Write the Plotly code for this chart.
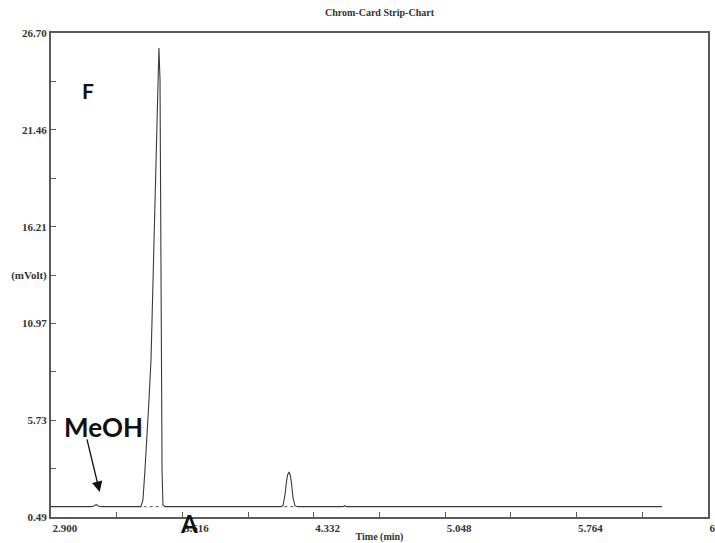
import plotly.graph_objects as go

# ── Data ──────────────────────────────────────────────────────
time_min = [2.900, 3.120, 3.138, 3.146, 3.154, 3.172, 3.390, 3.401, 3.412, 3.423,
            3.434, 3.445, 3.456, 3.467, 3.478, 3.486, 3.488, 3.494, 3.499, 3.502,
            3.505, 3.510, 3.521, 4.150, 4.164, 4.175, 4.183, 4.189, 4.197, 4.205,
            4.211, 4.219, 4.230, 4.245, 4.490, 4.500, 4.510, 6.229]
signal_mv = [1.05, 1.05, 1.10, 1.17, 1.10, 1.05, 1.05, 1.41, 3.03, 4.66,
             6.83, 9.00, 13.30, 17.66, 21.99, 25.24, 25.89, 24.15, 17.66, 9.00,
             3.03, 1.14, 1.05, 1.05, 1.10, 1.68, 2.39, 2.77, 2.93, 2.71,
             2.28, 1.52, 1.09, 1.05, 1.05, 1.10, 1.05, 1.05]

# integration baselines drawn under the two peaks
base1_t = [3.405, 3.505]
base2_t = [4.172, 4.224]
base_v = [1.05, 1.05]

y_ticks = [0.49, 5.73, 10.97, 13.59, 16.21, 21.46, 26.70]
y_labels = ["0.49", "5.73", "10.97", "(mVolt)", "16.21", "21.46", "26.70"]
y_minor = [3.11, 8.35, 18.84, 24.08]
x_ticks = [2.900, 3.616, 4.332, 5.048, 5.764, 6.480]
x_labels = ["2.900", "3.616", "4.332", "5.048", "5.764", "6.480"]
x_minor = [3.258, 3.974, 4.690, 5.406, 6.122]

serif = "Liberation Serif"
label_font = "Lato"

# plot area in pixels (left, right, top, bottom)
L, R, T, B = 51, 708, 33, 517


def px(x):
    return (x - L) / (R - L)


def py(y):
    return (B - y) / (B - T)


fig = go.Figure()

fig.add_trace(go.Scatter(
    x=time_min, y=signal_mv, mode="lines",
    line=dict(color="#3a3a3a", width=1.1),
    hoverinfo="skip", showlegend=False,
))
for bt in (base1_t, base2_t):
    fig.add_trace(go.Scatter(
        x=bt, y=base_v, mode="lines",
        line=dict(color="#555555", width=1, dash="dot"),
        hoverinfo="skip", showlegend=False,
    ))

axis_style = dict(
    showline=True, linecolor="#5a5a5a", linewidth=2, mirror=True,
    showgrid=False, zeroline=False, ticks="inside", ticklen=5,
    tickcolor="#5a5a5a", tickwidth=1, automargin=False,
    tickfont=dict(family=serif, size=11, color="#333333"),
)

fig.update_xaxes(
    range=[2.900, 6.480], tickmode="array", tickvals=x_ticks,
    ticktext=["<b>%s</b>" % t for t in x_labels],
    ticklabelposition="outside right", ticklabeloverflow="allow",
    minor=dict(tickmode="array", tickvals=x_minor, ticks="inside", ticklen=5,
               tickcolor="#5a5a5a"),
    title=dict(text="<b>Time (min)</b>", standoff=0,
               font=dict(family=serif, size=10, color="#333333")),
    **axis_style,
)
fig.update_yaxes(
    range=[0.49, 26.70], tickmode="array", tickvals=y_ticks,
    ticktext=["<b>%s</b>" % t for t in y_labels],
    minor=dict(tickmode="array", tickvals=y_minor, ticks="inside", ticklen=5,
               tickcolor="#5a5a5a"),
    **axis_style,
)

label = dict(xref="paper", yref="paper", showarrow=False,
             xanchor="center", yanchor="middle")
fig.add_annotation(x=px(88), y=py(90), text="<b>F</b>",
                   font=dict(family=label_font, size=21, color="#111111"), **label)
fig.add_annotation(x=px(103), y=py(427), text="<b>MeOH</b>",
                   font=dict(family=label_font, size=26, color="#111111"), **label)
fig.add_annotation(x=px(189), y=py(523), text="<b>A</b>",
                   font=dict(family=label_font, size=24, color="#111111"), **label)
fig.add_annotation(x=3.165, y=1.85, ax=-13, ay=-54, axref="pixel", ayref="pixel",
                   text="", showarrow=True, arrowhead=2, arrowsize=1.6,
                   arrowwidth=1.3, arrowcolor="#111111")

fig.update_layout(
    width=715, height=543,
    margin=dict(l=L, r=715 - R, t=T, b=543 - B),
    paper_bgcolor="white", plot_bgcolor="white",
    title=dict(text="<b>Chrom-Card Strip-Chart</b>", x=(L + R) / 2 / 715,
               xanchor="center", y=1 - 12 / 543, yanchor="middle",
               font=dict(family=serif, size=10, color="#333333")),
)

# the page's default body margin would shift the figure by 8px
fig.write_html("out.html", config={"displayModeBar": False},
               post_script="document.body.style.margin = '0';")
